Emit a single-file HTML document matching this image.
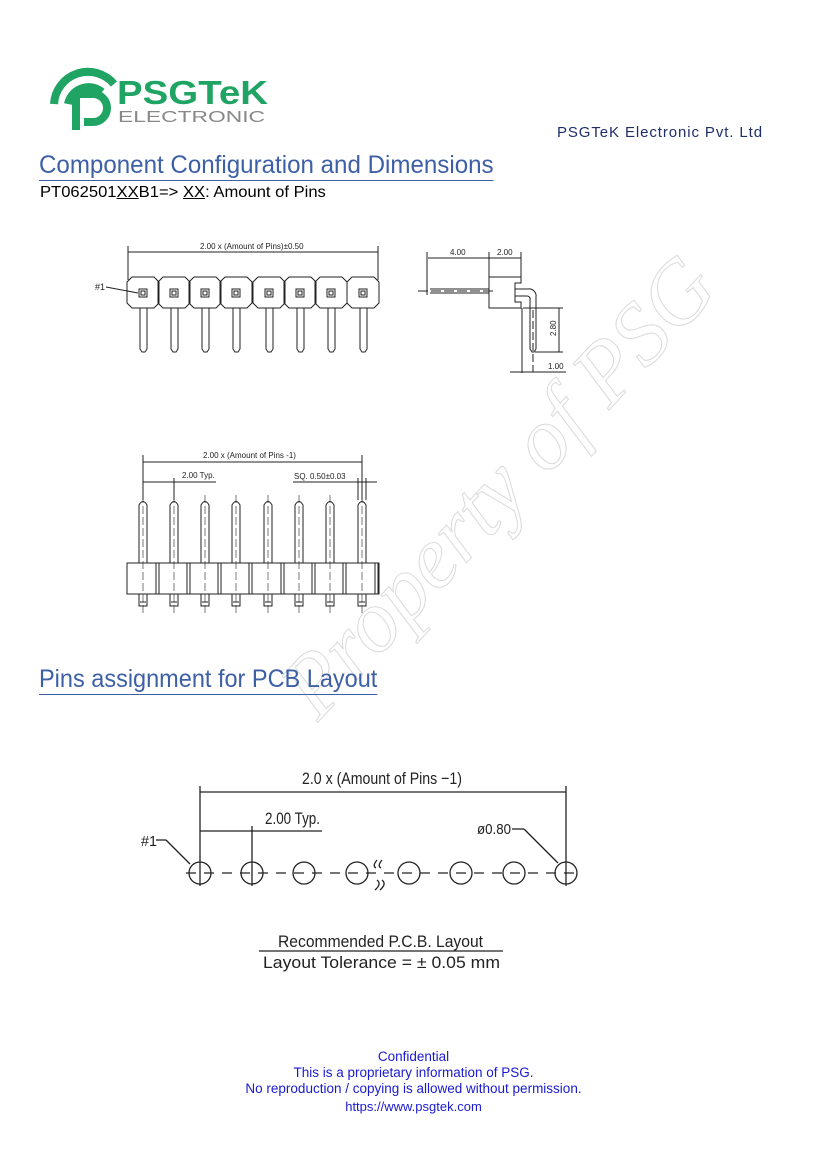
<!DOCTYPE html>
<html><head><meta charset="utf-8"><style>
body{margin:0;width:827px;height:1169px;background:#fff;position:relative;overflow:hidden;font-family:"Liberation Sans",sans-serif}
.a{position:absolute;white-space:nowrap}
</style></head><body>
<svg class="a" style="left:0;top:0" width="827" height="1169" xmlns="http://www.w3.org/2000/svg">
<!-- watermark -->
<text x="0" y="0" transform="translate(318,722) rotate(-47)" font-family="Liberation Serif,serif" font-size="88" fill="none" stroke="#dadada" stroke-width="1" font-style="italic" textLength="590" lengthAdjust="spacingAndGlyphs">Property of PSG</text>
<!-- logo -->
<g fill="none" stroke="#1fa463" stroke-width="8">
<path d="M54 104 A34 34 0 0 1 114 84"/>
<path d="M68 104 A21 21 0 0 1 102 92"/>
<path d="M76 130 V94 H93 A14 14 0 0 1 93 122 H84"/>
</g>
<text x="117" y="104" font-family="Liberation Sans,sans-serif" font-weight="bold" font-size="33" fill="#1fa463" textLength="151" lengthAdjust="spacingAndGlyphs">PSGTeK</text>
<text x="118" y="122" font-family="Liberation Sans,sans-serif" font-size="16" fill="#888" textLength="147" lengthAdjust="spacingAndGlyphs">ELECTRONIC</text>

<g stroke="#222" stroke-width="1" fill="none" font-family="Liberation Sans,sans-serif">
<!-- top view -->
<line x1="128" y1="252" x2="378" y2="252"/><line x1="128" y1="246" x2="128" y2="280"/><line x1="378" y1="246" x2="378" y2="280"/>
<text x="200" y="249" font-size="8" fill="#222" stroke="none">2.00 x (Amount of Pins)±0.50</text>
<text x="95" y="290" font-size="9" fill="#222" stroke="none">#1</text>
<line x1="106" y1="287" x2="138" y2="293"/>
<g id="tp">
<path d="M132 277 H154 L159 282 V303 L154 308 H132 L127 303 V282 Z"/>
<rect x="139" y="289" width="8" height="8"/><rect x="141" y="291" width="4" height="4"/>
<path d="M140 308 V349 L142 352 H145 L147 349 V308"/>
</g>
<use href="#tp" x="31"/><use href="#tp" x="62"/><use href="#tp" x="93"/><use href="#tp" x="126"/><use href="#tp" x="157"/><use href="#tp" x="188"/><use href="#tp" x="220"/>
<!-- side view -->
<line x1="428" y1="258" x2="489" y2="258"/><line x1="489" y1="258" x2="521" y2="258"/>
<line x1="427" y1="252" x2="427" y2="295"/><line x1="489" y1="252" x2="489" y2="277"/><line x1="521" y1="252" x2="521" y2="277"/>
<text x="450" y="255" font-size="8" fill="#222" stroke="none">4.00</text><text x="497" y="255" font-size="8" fill="#222" stroke="none">2.00</text>
<path d="M489 277 H521 V283 H515 V302 H521 V308 H489 Z"/>
<line x1="418" y1="291" x2="496" y2="291" stroke-dasharray="10 3"/>
<path d="M430 289 H489 M430 293 H489"/>
<path d="M515 289 H528 A7 7 0 0 1 536 297 V349 L534 352 H532 L530 349 V300 A3 3 0 0 0 527 296 H515"/>
<line x1="533" y1="310" x2="533" y2="372" stroke-dasharray="8 3"/>
<line x1="522" y1="308" x2="522" y2="373"/>
<line x1="523" y1="308" x2="563" y2="308"/><line x1="535" y1="352" x2="563" y2="352"/><line x1="559" y1="308" x2="559" y2="352"/>
<text x="556" y="336" font-size="8" fill="#222" stroke="none" transform="rotate(-90 556 336)">2.80</text>
<line x1="510" y1="372" x2="566" y2="372"/>
<text x="548" y="369" font-size="8" fill="#222" stroke="none">1.00</text>
<!-- front view -->
<line x1="143" y1="462" x2="362" y2="462"/><line x1="143" y1="455" x2="143" y2="500"/><line x1="362" y1="455" x2="362" y2="500"/>
<text x="203" y="458" font-size="8" fill="#222" stroke="none">2.00 x (Amount of Pins -1)</text>
<line x1="143" y1="482" x2="216" y2="482"/><line x1="174" y1="478" x2="174" y2="500"/>
<text x="182" y="478" font-size="8" fill="#222" stroke="none">2.00 Typ.</text>
<line x1="293" y1="482" x2="377" y2="482"/><line x1="358" y1="478" x2="358" y2="500"/><line x1="366" y1="478" x2="366" y2="500"/>
<text x="294" y="479" font-size="8" fill="#222" stroke="none">SQ. 0.50±0.03</text>
<rect x="127" y="563" width="252" height="31"/>
<g id="fp">
<path d="M139 563 V505 Q143 498 147 505 V563 M139 594 V606 H147 V594 M140 602 H146"/>
<line x1="143" y1="495" x2="143" y2="615" stroke-dasharray="8 3" stroke-width="0.6"/>
<line x1="156" y1="563" x2="156" y2="594"/><line x1="159" y1="563" x2="159" y2="594"/>
</g>
<use href="#fp" x="31"/><use href="#fp" x="62"/><use href="#fp" x="93"/><use href="#fp" x="125"/><use href="#fp" x="156"/><use href="#fp" x="187"/><use href="#fp" x="219"/>
<!-- PCB layout -->
<g stroke-width="1.3">
<line x1="200" y1="792" x2="566" y2="792"/><line x1="200" y1="786" x2="200" y2="886"/><line x1="566" y1="786" x2="566" y2="886"/>
<line x1="200" y1="831" x2="322" y2="831"/><line x1="252" y1="826" x2="252" y2="886"/>
<line x1="186" y1="873" x2="582" y2="873" stroke-dasharray="10 8"/>
<circle cx="200" cy="873" r="11"/><circle cx="252" cy="873" r="11"/><circle cx="304" cy="873" r="11"/><circle cx="357" cy="873" r="11"/>
<circle cx="409" cy="873" r="11"/><circle cx="461" cy="873" r="11"/><circle cx="514" cy="873" r="11"/><circle cx="566" cy="873" r="11"/>
<line x1="156" y1="840" x2="166" y2="840"/><line x1="166" y1="840" x2="190" y2="864"/>
<line x1="512" y1="829" x2="524" y2="829"/><line x1="524" y1="829" x2="558" y2="863"/>
<path d="M377 860 Q372 866 376 868 M382 860 Q377 866 381 868 M377 880 Q382 884 375 890 M382 880 Q387 884 380 890"/>
<line x1="259" y1="951" x2="503" y2="951"/>
</g>
<g fill="#222" stroke="none" font-size="17">
<text x="302" y="784" textLength="160" lengthAdjust="spacingAndGlyphs">2.0 x (Amount of Pins −1)</text>
<text x="265" y="824" textLength="55" lengthAdjust="spacingAndGlyphs">2.00 Typ.</text>
<text x="141" y="846" font-size="15" textLength="16" lengthAdjust="spacingAndGlyphs">#1</text>
<text x="477" y="834" font-size="15" textLength="34" lengthAdjust="spacingAndGlyphs">ø0.80</text>
<text x="278" y="947" textLength="205" lengthAdjust="spacingAndGlyphs">Recommended P.C.B. Layout</text>
<text x="263" y="968" textLength="237" lengthAdjust="spacingAndGlyphs">Layout Tolerance = ± 0.05 mm</text>
</g>
</g>
</svg>
<div class="a" style="left:557px;top:124px;font-size:15px;color:#1f2d6b;letter-spacing:0.9px">PSGTeK Electronic Pvt. Ltd</div>
<div class="a" style="left:39px;top:150px;font-size:25px;color:#3d5fa6;border-bottom:1px solid #3d5fa6;line-height:30px;transform:scaleX(0.965);transform-origin:left">Component Configuration and Dimensions</div>
<div class="a" style="left:40px;top:184px;font-size:15.5px;color:#000;transform:scaleX(1.07);transform-origin:left">PT062501<u>XX</u>B1=&gt; <u>XX</u>: Amount of Pins</div>
<div class="a" style="left:39px;top:664px;font-size:25px;color:#3d5fa6;border-bottom:1px solid #3d5fa6;line-height:30px;transform:scaleX(0.94);transform-origin:left">Pins assignment for PCB Layout</div>
<div class="a" style="left:0;width:827px;top:1049px;text-align:center;font-size:13.5px;color:#1a1ad0;line-height:16px;white-space:normal">Confidential<br>This is a proprietary information of PSG.<br>No reproduction / copying is allowed without permission.</div>
<div class="a" style="left:0;width:827px;top:1099px;text-align:center;font-size:13px;color:#1a1ad0">https://www.psgtek.com</div>
</body></html>
